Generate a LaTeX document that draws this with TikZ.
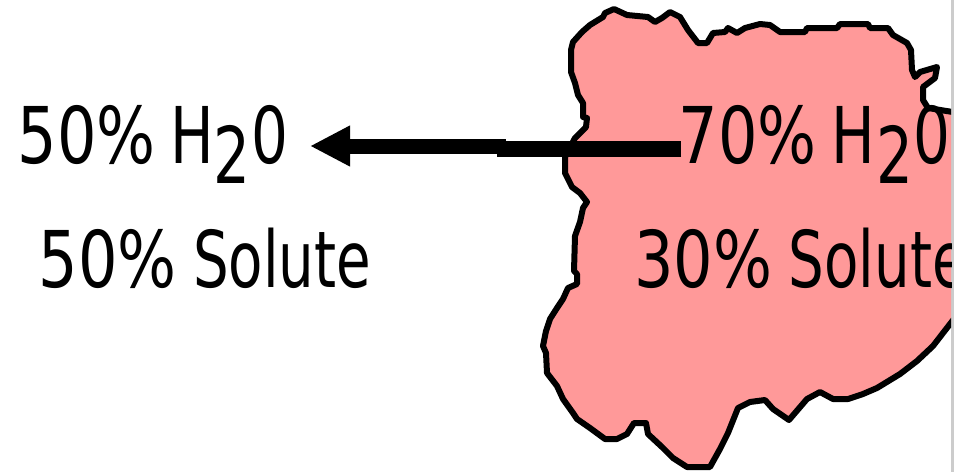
\documentclass[tikz,border=0pt]{standalone}
\usepackage{fontspec}
\usepackage{graphicx}
\setmainfont{DejaVu Sans}
\usetikzlibrary{arrows.meta}
\definecolor{cellpink}{RGB}{255,153,153}
\newcommand{\pct}[1]{\scalebox{1.07}[1]{#1\%}}
\newcommand{\solute}{\scalebox{0.97}[1]{Solute}}
\begin{document}
\begin{tikzpicture}[x=1pt,y=-1pt]
  \tikzstyle{every node}=[inner sep=0pt,text=black,font=\fontsize{58}{58}\selectfont,yscale=1.35,transform shape]
  \useasboundingbox (0,0) rectangle (954,472);
  \fill[white] (0,0) rectangle (954,472);
  \fill[black!20] (951,0) rectangle (954,472);
  % the cell, running off the right edge
  \begin{scope}
    \clip (0,0) rectangle (951,472);
    \draw[line width=6pt,fill=cellpink,line join=round]
      (614,9) -- (627,15) -- (648,17) -- (655,22) -- (662,18) -- (670,12) -- (680,17)
      -- (688,30) -- (698,43) -- (707,43) -- (713,33) -- (725,32) -- (728,28) -- (737,33)
      -- (745,28) -- (760,24) -- (770,25) -- (780,32) -- (805,32) -- (807,28) -- (837,28)
      -- (840,24) -- (868,24) -- (870,28) -- (888,28) -- (893,35) -- (907,43) -- (911,50)
      -- (912,70) -- (915,77) -- (920,72) -- (937,67) -- (935,78) -- (923,87) -- (923,100)
      -- (928,108) -- (965,114) -- (965,305) -- (950,324) -- (933,346) -- (917,361)
      -- (900,374) -- (877,388) -- (863,394) -- (848,399) -- (833,399) -- (820,392)
      -- (807,399) -- (789,420) -- (773,409) -- (765,400) -- (750,402) -- (738,408)
      -- (728,433) -- (720,449) -- (710,467) -- (687,467) -- (673,458) -- (662,447)
      -- (648,434) -- (646,423) -- (634,423) -- (627,434) -- (617,439) -- (605,439)
      -- (590,428) -- (577,419) -- (573,413) -- (563,399) -- (557,386) -- (547,373)
      -- (546,353) -- (543,346) -- (546,331) -- (550,319) -- (557,308) -- (563,299)
      -- (568,288) -- (577,284) -- (577,274) -- (574,271) -- (575,236) -- (580,222)
      -- (583,208) -- (587,202) -- (580,193) -- (572,187) -- (565,173) -- (565,157)
      -- (575,138) -- (586,127) -- (587,118) -- (583,117) -- (583,103) -- (578,95)
      -- (575,83) -- (571,72) -- (571,50) -- (573,42) -- (582,32) -- (590,25) -- (603,17)
      -- (605,13) -- cycle;
    \node[anchor=base west] (waterin) at (678.5,163) {\pct{70}\hspace{14.5pt}H};
    \node[anchor=base west] (subin) at (876,183) {2};
    \node[anchor=base west] (oxyin) at (913,163) {0};
    \node[anchor=base west] (solutein) at (634,287) {\pct{30}\hspace{16.5pt}\solute};
  \end{scope}
  \node[anchor=base west] (waterout) at (17.5,163) {\pct{50}\hspace{14.5pt}H};
  \node[anchor=base west] (subout) at (213,183) {2};
  \node[anchor=base west] (oxyout) at (251,163) {0};
  \node[anchor=base west] (soluteout) at (38.5,287) {\pct{50}\hspace{16.5pt}\solute};
  % arrow, thicker on the cell side
  \coordinate (join) at (497,149);
  \coordinate (bend) at (506,146);
  \coordinate (tip) at (310,146);
  \draw[line width=16pt] ([xshift=2.5pt]waterin.west |- join) -- (join);
  \draw[line width=15pt,-{Triangle[length=40pt,width=38pt]}] (bend) -- (tip);
\end{tikzpicture}
\end{document}
